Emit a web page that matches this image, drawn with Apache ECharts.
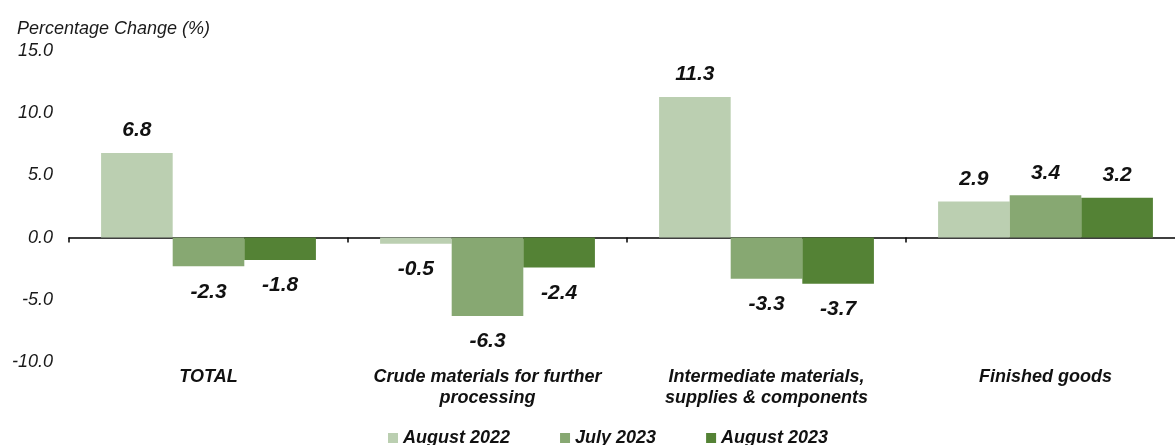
<!DOCTYPE html>
<html>
<head>
<meta charset="utf-8">
<script src="https://cdn.jsdelivr.net/npm/echarts@6/dist/echarts.min.js"></script>
<style>
  html, body { margin: 0; padding: 0; background: #fff; overflow: hidden; }
  /* the plot runs a little past the right edge, as in the original */
  #main { width: 1185px; height: 445px; }
</style>
</head>
<body>
<div id="main"></div>
<script>
const categories = [
  'TOTAL',
  'Crude materials for further\nprocessing',
  'Intermediate materials,\nsupplies & components',
  'Finished goods'
]
const aug2022 = [6.8, -0.5, 11.3, 2.9]
const jul2023 = [-2.3, -6.3, -3.3, 3.4]
const aug2023 = [-1.8, -2.4, -3.7, 3.2]
const yTicks = { min: -10, max: 15, interval: 5 }

const font = 'Liberation Sans, Arial, sans-serif'

function barSeries(name, data, color) {
  return {
    name: name,
    type: 'bar',
    barGap: '0%',
    barCategoryGap: '23%',
    itemStyle: { color: color },
    label: {
      show: true,
      fontFamily: font,
      fontSize: 21,
      fontWeight: 'bold',
      fontStyle: 'italic',
      color: '#111',
      formatter: p => p.value.toFixed(1),
      position: 'top',
      distance: 12
    },
    // negative bars carry their value below
    data: data.map(v => v < 0
      ? { value: v, label: { position: 'bottom', distance: 15 } }
      : v)
  }
}

const chart = echarts.init(document.getElementById('main'))
chart.setOption({
  animation: false,
  textStyle: { fontFamily: font },
  title: {
    text: 'Percentage Change (%)',
    left: 12,
    top: 15,
    textStyle: { fontFamily: font, fontSize: 18, fontStyle: 'italic', fontWeight: 'normal', color: '#1a1a1a' }
  },
  legend: {
    top: 424,
    left: 383,
    icon: 'rect',
    itemWidth: 10,
    itemHeight: 10,
    itemGap: 50,
    textStyle: { fontFamily: font, fontSize: 18, fontWeight: 'bold', fontStyle: 'italic', color: '#111' }
  },
  grid: { left: 69, right: 0, top: 51, bottom: 83 },
  xAxis: [
    {
      type: 'category',
      data: categories,
      axisLine: { onZero: true, lineStyle: { color: '#000', width: 1.5 } },
      axisTick: { show: true, length: 5, lineStyle: { color: '#000', width: 1.5 } },
      axisLabel: { show: false }
    },
    {
      type: 'category',
      data: categories,
      position: 'bottom',
      axisLine: { show: false, onZero: false },
      axisTick: { show: false },
      axisLabel: {
        interval: 0,
        margin: 5,
        fontFamily: font,
        fontSize: 18,
        lineHeight: 21,
        fontWeight: 'bold',
        fontStyle: 'italic',
        color: '#111'
      }
    }
  ],
  yAxis: {
    type: 'value',
    min: yTicks.min,
    max: yTicks.max,
    interval: yTicks.interval,
    axisLine: { show: false },
    axisTick: { show: false },
    splitLine: { show: false },
    axisLabel: {
      margin: 16,
      fontFamily: font,
      fontSize: 18,
      fontStyle: 'italic',
      color: '#1a1a1a',
      formatter: v => v.toFixed(1)
    }
  },
  series: [
    barSeries('August 2022', aug2022, '#bbcfb1'),
    barSeries('July 2023', jul2023, '#87a872'),
    barSeries('August 2023', aug2023, '#548235')
  ]
})
</script>
</body>
</html>
